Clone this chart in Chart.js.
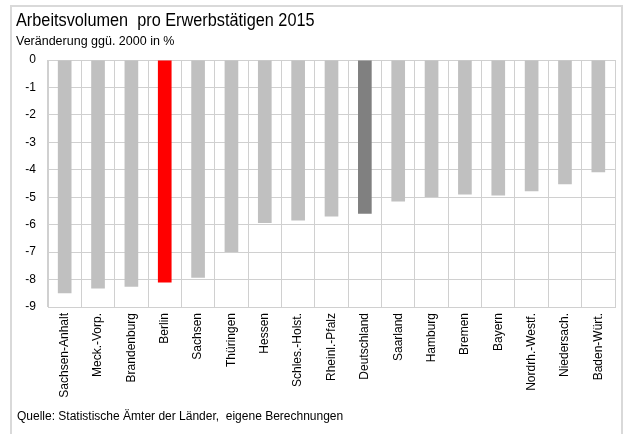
<!DOCTYPE html>
<html>
<head>
<meta charset="utf-8">
<script src="https://cdn.jsdelivr.net/npm/chart.js@4/dist/chart.umd.min.js"></script>
<style>
  html, body { margin: 0; padding: 0; background: #fff; }
  body { width: 623px; height: 434px; position: relative; overflow: hidden; font-family: "Liberation Sans", Arial, sans-serif; }
  #frame { position: absolute; left: 10px; top: 5px; width: 609px; height: 500px; border: 2px solid #d9d9d9; box-sizing: content-box; }
  #wrap { position: absolute; left: 0; top: 0; width: 623px; height: 434px; }
  .txt { position: absolute; white-space: nowrap; color: #000; transform-origin: 0 0; }
  #title { left: 16px; top: 10px; font-size: 17.5px; transform: scaleX(0.93); }
  #subtitle { left: 16px; top: 34px; font-size: 12.5px; }
  #footer { left: 17px; top: 409px; font-size: 12px; }
</style>
</head>
<body>
<div id="frame"></div>
<div id="wrap"><canvas id="c" width="623" height="434"></canvas></div>
<div class="txt" id="title">Arbeitsvolumen&nbsp; pro Erwerbstätigen 2015</div>
<div class="txt" id="subtitle">Veränderung ggü. 2000 in %</div>
<div class="txt" id="footer">Quelle: Statistische Ämter der Länder,&nbsp; eigene Berechnungen</div>
<script>
const categories = ["Sachsen-Anhalt", "Meck.-Vorp.", "Brandenburg", "Berlin", "Sachsen", "Thüringen", "Hessen", "Schles.-Holst.", "Rheinl.-Pfalz", "Deutschland", "Saarland", "Hamburg", "Bremen", "Bayern", "Nordrh.-Westf.", "Niedersach.", "Baden-Würt."];
const values = [-8.50, -8.33, -8.26, -8.11, -7.93, -7.00, -5.94, -5.85, -5.70, -5.60, -5.16, -4.99, -4.90, -4.94, -4.78, -4.53, -4.09];
const barColors = categories.map(c => c === "Berlin" ? "#ff0000" : (c === "Deutschland" ? "#808080" : "#c0c0c0"));
const yMin = -9, yMax = 0, yStep = 1;

Chart.defaults.font.family = '"Liberation Sans", Arial, sans-serif';
Chart.defaults.color = '#000';

new Chart(document.getElementById('c'), {
  type: 'bar',
  data: {
    labels: categories,
    datasets: [{
      data: values,
      backgroundColor: barColors,
      borderWidth: 0,
      barPercentage: 0.41,
      categoryPercentage: 1.0
    }]
  },
  options: {
    responsive: false,
    animation: false,
    events: [],
    layout: { padding: { left: 18, right: 8, top: 60, bottom: 27 } },
    plugins: { legend: { display: false }, tooltip: { enabled: false }, title: { display: false } },
    scales: {
      x: {
        grid: { color: '#d0d0d0', lineWidth: 1, drawTicks: false, offset: true },
        border: { color: '#d0d0d0' },
        ticks: { font: { size: 12 }, minRotation: 90, maxRotation: 90, autoSkip: false, padding: 6, color: '#000' },
        afterFit: s => { s.height = 100; }
      },
      y: {
        min: yMin, max: yMax,
        grid: { color: '#d0d0d0', lineWidth: 1, drawTicks: false },
        border: { color: '#d0d0d0' },
        ticks: { stepSize: yStep, font: { size: 12 }, padding: 12, color: '#000' },
        afterFit: s => { s.width = 30; }
      }
    }
  }
});
</script>
</body>
</html>
